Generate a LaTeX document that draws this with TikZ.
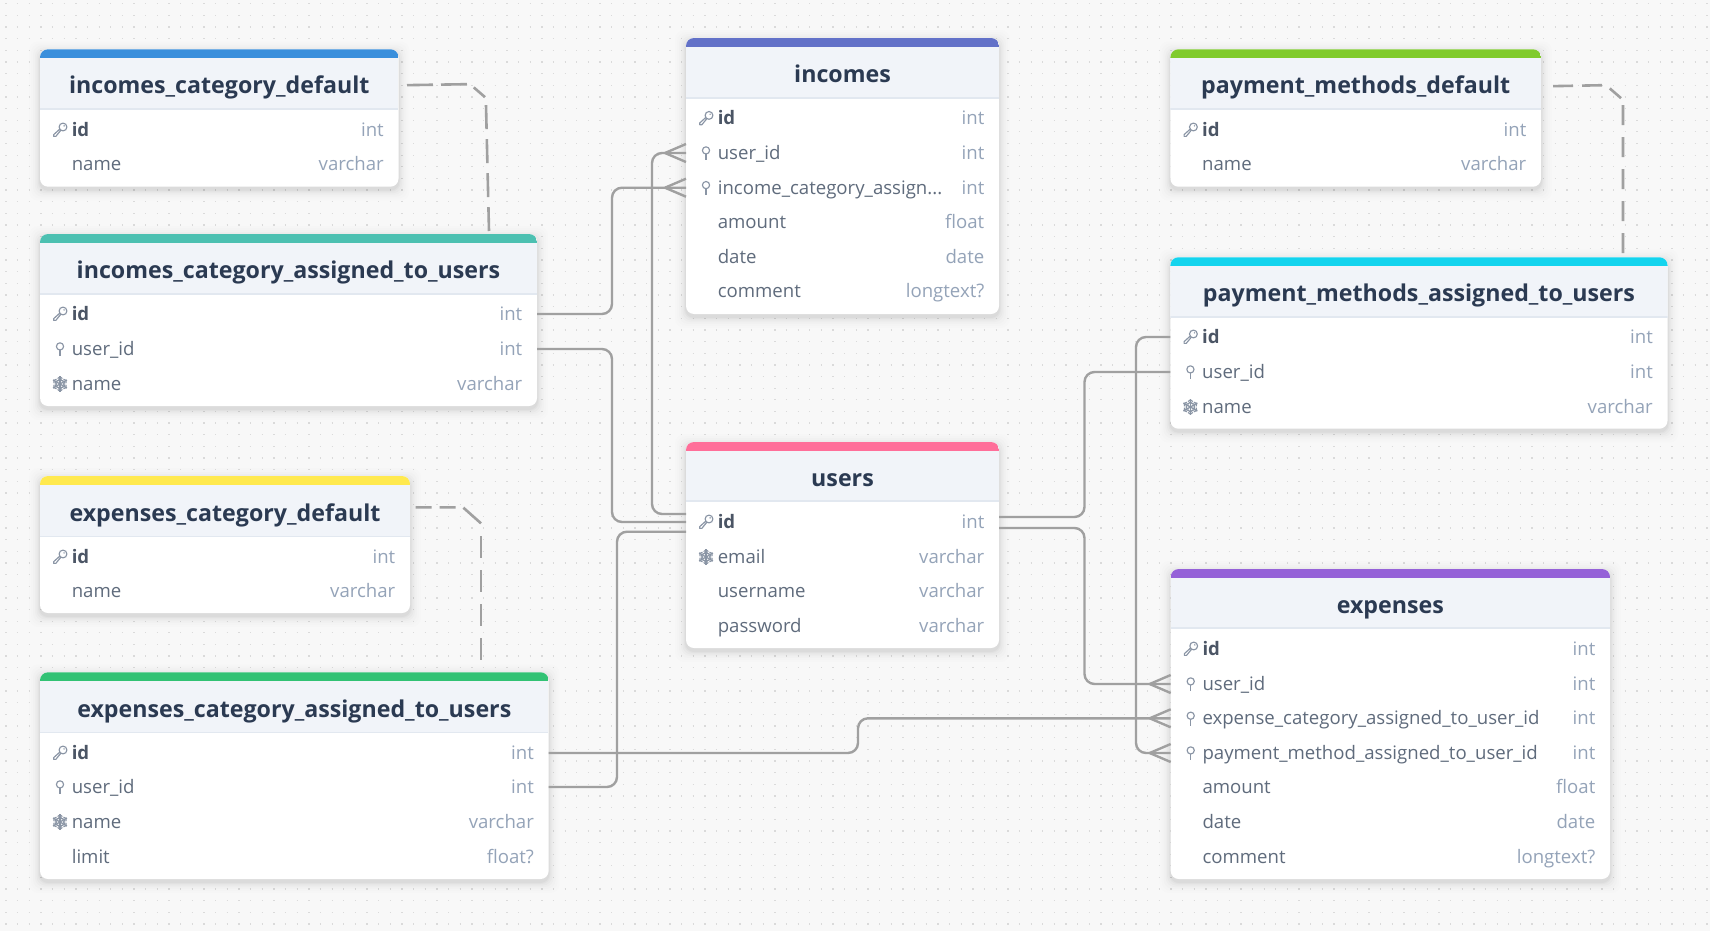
\documentclass[tikz,border=0pt]{standalone}
\usepackage{fontspec}
\setmainfont{Open Sans}
\definecolor{pagebg}{HTML}{F8F8F8}
\definecolor{dotcol}{HTML}{DADADA}
\definecolor{headfill}{HTML}{F1F4F9}
\definecolor{headrule}{HTML}{E2E8F0}
\definecolor{titlecol}{HTML}{2B3A52}
\definecolor{namecol}{HTML}{5F6B7C}
\definecolor{pkcol}{HTML}{4B5565}
\definecolor{typecol}{HTML}{94A3B8}
\definecolor{iconcol}{HTML}{8A95A5}
\definecolor{linecol}{HTML}{A0A0A0}
\definecolor{barA}{HTML}{3A8FDC}
\definecolor{barB}{HTML}{4CC0B1}
\definecolor{barC}{HTML}{6271C8}
\definecolor{barD}{HTML}{80CB2C}
\definecolor{barE}{HTML}{14D4EE}
\definecolor{barF}{HTML}{FF6E99}
\definecolor{barG}{HTML}{FFE94F}
\definecolor{barH}{HTML}{32C274}
\definecolor{barI}{HTML}{9561D8}
\tikzset{
  tablebox/.style={shape=rectangle,rounded corners=8pt,fill=white,inner sep=0pt,outer sep=0pt},
  rowbox/.style={shape=rectangle,inner sep=0pt,outer sep=0pt,minimum height=34pt},
  titletext/.style={anchor=base,inner sep=0pt,text=titlecol,font=\fontsize{23.2}{23.2}\selectfont\bfseries},
  nametext/.style={anchor=base west,inner sep=0pt,text=namecol,font=\fontsize{18.6}{18.6}\selectfont},
  pktext/.style={anchor=base west,inner sep=0pt,text=pkcol,font=\fontsize{18.6}{18.6}\selectfont\bfseries},
  typetext/.style={anchor=base east,inner sep=0pt,text=typecol,font=\fontsize{18.6}{18.6}\selectfont},
  rowname pk/.style={pktext},
  rowname fk/.style={nametext},
  rowname uq/.style={nametext},
  rowname none/.style={nametext},
  conn/.style={draw=linecol,line width=2.4pt,rounded corners=10pt},
  crowline/.style={draw=linecol,line width=2.4pt},
  fkdash/.style={draw=linecol,line width=2.6pt},
  iconline/.style={draw=iconcol,line width=1.15pt,line join=round},
}
% table frame: id, x0, x1, top, bottom, head bottom, colour, title
\newcommand{\dbtable}[8]{%
  \def\tx{#2}\def\ty{#3}%
  \pgfmathsetmacro{\tw}{#3-#2}%
  \pgfmathsetmacro{\th}{#5-#4}%
  \pgfmathsetmacro{\tcx}{(#2+#3)/2}%
  \pgfmathsetmacro{\tcy}{(#4+#5)/2}%
  \pgfmathsetmacro{\tbar}{#4+9}%
  \pgfmathsetmacro{\tmid}{(#4+9+#6)/2}%
  \pgfmathsetmacro{\tbase}{\tmid+10.2}%
  \foreach \sp/\op in {11/.006,9/.008,7/.012,5/.016,3.5/.02,2/.024,1/.028}{%
    \fill[black,opacity=\op,rounded corners=9pt] (#2-\sp,#4+3-\sp) rectangle (#3+\sp,#5+3+\sp);
  }%
  \node[tablebox,minimum width=\tw pt,minimum height=\th pt] (#1) at (\tcx,\tcy) {};
  \begin{scope}
    \clip[rounded corners=8pt] (#2,#4) rectangle (#3,#5);
    \fill[headfill] (#2,#4) rectangle (#3,#6);
    \fill[#7] (#2,#4) rectangle (#3,\tbar);
    \draw[headrule,line width=1.2pt] (#2,#6) -- (#3,#6);
  \end{scope}
  \node[titletext] (#1-title) at (\tcx,\tbase) {#8};
  \coordinate (#1-hr) at (#3,\tmid);
}
\newcommand{\iconpk}[2]{\begin{scope}[shift={(#1,#2)}]
  \draw[iconline] (3,-3) circle (3.9);
  \fill[iconcol] (4.1,-4.1) circle (0.8);
  \draw[iconline] (-0.2,-0.9) -- (-6.3,4.6) -- (-6.3,6.4) -- (-4.2,6.4) -- (0.9,0.2);
\end{scope}}
\newcommand{\iconfk}[2]{\begin{scope}[shift={(#1,#2)}]
  \draw[iconline] (0,-2.6) circle (3.6);
  \draw[iconline] (0,1) -- (0,7.2);
\end{scope}}
\newcommand{\iconuq}[2]{\begin{scope}[shift={(#1,#2)}]
  \foreach \a in {30,90,150,210,270,330}{%
    \begin{scope}[rotate=\a]
      \draw[iconcol,line width=1.3pt] (0,0) -- (8,0);
      \draw[iconcol,line width=1.1pt] (2.8,2.6) -- (5.2,0) -- (2.8,-2.6);
      \draw[iconcol,line width=1.1pt] (5.4,2.4) -- (7.2,0) -- (5.4,-2.4);
    \end{scope}}
\end{scope}}
\newcommand{\iconnone}[2]{}
% row: node name, y, icon (pk/fk/uq/none), name, type
\newcommand{\trow}[5]{%
  \pgfmathsetmacro{\rcx}{(\tx+\ty)/2}%
  \pgfmathsetmacro{\rbase}{#2+6.3}%
  \pgfmathsetmacro{\rico}{\tx+20}%
  \pgfmathsetmacro{\rtxt}{\tx+31.6}%
  \pgfmathsetmacro{\rend}{\ty-14.5}%
  \node[rowbox,minimum width=\tw pt] (#1) at (\rcx,#2) {};
  \csname icon#3\endcsname{\rico}{#2}%
  \node[rowname #3] (#1-name) at (\rtxt,\rbase) {#4};
  \node[typetext] (#1-type) at (\rend,\rbase) {#5};
}
\newcommand{\crowfoot}[1]{%
  \draw[crowline] ([xshift=-21pt]#1.west) -- ([yshift=9pt]#1.west);
  \draw[crowline] ([xshift=-21pt]#1.west) -- ([yshift=-9pt]#1.west);
}
\begin{document}
\begin{tikzpicture}[x=1pt,y=-1pt]
\useasboundingbox (0,0) rectangle (1710,931);
\fill[pagebg] (0,0) rectangle (1710,931);
\foreach \n in {0,...,79}{%
  \pgfmathsetmacro{\dy}{3.7+11.65*\n}%
  \draw[dotcol,line width=1.3pt,dash pattern=on 1.3pt off 10.35pt] (5.3,\dy) -- (1710,\dy);
}

\dbtable{icd}{40}{398.5}{49.3}{186.7}{109}{barA}{incomes\_category\_default}
\trow{icd-id}{130}{pk}{id}{int}
\trow{icd-nm}{164}{none}{name}{varchar}

\dbtable{ica}{40}{537}{234}{406}{294}{barB}{incomes\_category\_assigned\_to\_users}
\trow{ica-id}{314}{pk}{id}{int}
\trow{ica-us}{349}{fk}{user\_id}{int}
\trow{ica-nm}{384}{uq}{name}{varchar}

\dbtable{inc}{686}{999}{38}{314}{98}{barC}{incomes}
\trow{inc-id}{118.4}{pk}{id}{int}
\trow{inc-us}{153}{fk}{user\_id}{int}
\trow{inc-cat}{187.7}{fk}{income\_category\_assign...}{int}
\trow{inc-am}{222}{none}{amount}{float}
\trow{inc-dt}{257}{none}{date}{date}
\trow{inc-co}{291}{none}{comment}{longtext?}

\dbtable{usr}{686}{999}{442}{648}{501}{barF}{users}
\trow{usr-id}{522}{pk}{id}{int}
\trow{usr-em}{557}{uq}{email}{varchar}
\trow{usr-un}{591}{none}{username}{varchar}
\trow{usr-pw}{626}{none}{password}{varchar}

\dbtable{pmd}{1170.4}{1541}{49.3}{186.7}{109}{barD}{payment\_methods\_default}
\trow{pmd-id}{130}{pk}{id}{int}
\trow{pmd-nm}{164}{none}{name}{varchar}

\dbtable{pma}{1170.4}{1667.5}{257.3}{428.7}{317}{barE}{payment\_methods\_assigned\_to\_users}
\trow{pma-id}{337}{pk}{id}{int}
\trow{pma-us}{372}{fk}{user\_id}{int}
\trow{pma-nm}{407}{uq}{name}{varchar}

\dbtable{ecd}{40}{410}{476}{613}{536.7}{barG}{expenses\_category\_default}
\trow{ecd-id}{557}{pk}{id}{int}
\trow{ecd-nm}{591}{none}{name}{varchar}

\dbtable{eca}{40}{548.6}{672.3}{879}{732.7}{barH}{expenses\_category\_assigned\_to\_users}
\trow{eca-id}{753}{pk}{id}{int}
\trow{eca-us}{787}{fk}{user\_id}{int}
\trow{eca-nm}{822}{uq}{name}{varchar}
\trow{eca-li}{857}{none}{limit}{float?}

\dbtable{exp}{1170.7}{1610}{569}{879}{628}{barI}{expenses}
\trow{exp-id}{649}{pk}{id}{int}
\trow{exp-us}{684}{fk}{user\_id}{int}
\trow{exp-cat}{718.3}{fk}{expense\_category\_assigned\_to\_user\_id}{int}
\trow{exp-pm}{753}{fk}{payment\_method\_assigned\_to\_user\_id}{int}
\trow{exp-am}{787}{none}{amount}{float}
\trow{exp-dt}{822}{none}{date}{date}
\trow{exp-co}{857}{none}{comment}{longtext?}

% solid connectors
\draw[conn] (ica-id.east) -- ++(75,0) |- (inc-cat.west);
\crowfoot{inc-cat}
\draw[conn] (ica-us.east) -- ++(75,0) |- (usr-id.west);
\draw[conn] ([yshift=8pt]usr-id.west) -- ++(-34,0) |- (inc-us.west);
\crowfoot{inc-us}
\draw[conn] (eca-us.east) -- ++(68.4,0) |- ([yshift=-9.7pt]usr-id.west);
\draw[conn] (eca-id.east) -- ++(309.4,0) |- (exp-cat.west);
\crowfoot{exp-cat}
\draw[conn] ([yshift=5pt]usr-id.east) -- ++(85.5,0) |- (pma-us.west);
\draw[conn] ([yshift=-6pt]usr-id.east) -- ++(85.5,0) |- (exp-us.west);
\crowfoot{exp-us}
\draw[conn] (pma-id.west) -- ++(-34.4,0) |- (exp-pm.west);
\crowfoot{exp-pm}

% dashed connectors
\draw[fkdash,dash pattern=on 26pt off 8pt] ([xshift=8.5pt,yshift=-1.5pt]icd-hr) -- ++(63,-1) -- ++(15,13) coordinate (icd-bend);
\draw[fkdash,dash pattern=on 24pt off 10pt] ([xshift=1pt,yshift=-8pt]icd-bend) -- ([xshift=200.5pt,yshift=3pt]ica.north);
\draw[fkdash,dash pattern=on 20pt off 9pt] ([xshift=12pt,yshift=-2.5pt]pmd-hr) -- ++(53,-1) -- ++(15,13) coordinate (pmd-bend);
\draw[fkdash,dash pattern=on 20pt off 12pt] ([xshift=2pt,yshift=-7pt]pmd-bend) -- ([xshift=204pt,yshift=4pt]pma.north);
\draw[fkdash,dash pattern=on 16pt off 8pt on 16pt off 8pt on 30pt off 8pt] ([xshift=5.5pt,yshift=3.5pt]ecd-hr) -- ++(47.5,0) -- ++(18,16) coordinate (ecd-bend);
\draw[fkdash,dash pattern=on 22pt off 12pt] ([yshift=-12.7pt]ecd-bend) -- ([xshift=186.7pt,yshift=10pt]eca.north);
\end{tikzpicture}
\end{document}
